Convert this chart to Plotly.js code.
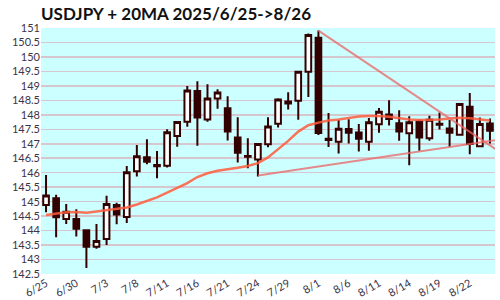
<!DOCTYPE html>
<html>
<head>
<meta charset="utf-8">
<script src="https://cdn.plot.ly/plotly-3.0.1.min.js"></script>
<style>html,body{margin:0;padding:0;background:#fff;}#chart{width:500px;height:300px;}</style>
</head>
<body>
<div id="chart"></div>
<script>
var dates = ["6/25","6/26","6/27","6/30","7/1","7/2","7/3","7/4","7/7","7/8","7/9","7/10","7/11","7/14","7/15","7/16","7/17","7/18","7/21","7/22","7/23","7/24","7/25","7/28","7/29","7/30","7/31","8/1","8/4","8/5","8/6","8/7","8/8","8/11","8/12","8/13","8/14","8/15","8/18","8/19","8/20","8/21","8/22","8/25","8/26"];
var openV  = [144.88,145.12,144.40,144.40,144.01,143.44,143.71,144.88,144.47,146.05,146.53,146.27,146.24,147.27,147.76,148.82,147.84,148.56,148.23,147.22,146.58,146.46,146.98,147.69,148.39,148.49,149.49,150.66,147.17,147.07,147.51,147.39,147.07,147.67,148.01,147.71,147.36,147.77,147.19,147.69,147.53,147.31,148.28,146.91,147.70];
var highV  = [145.92,145.24,144.92,144.74,144.03,144.23,145.20,144.96,146.23,146.96,147.16,146.75,147.50,147.77,149.00,149.16,149.06,148.88,148.64,147.92,147.19,147.00,147.92,148.57,148.78,149.50,150.81,150.91,148.06,147.82,147.85,147.68,147.89,148.24,148.50,148.16,147.95,147.84,147.97,148.08,147.82,148.39,148.75,147.91,147.87];
var lowV   = [144.63,143.77,144.23,143.80,142.71,143.37,143.50,144.22,144.26,145.87,146.29,145.81,146.18,146.90,147.59,146.93,147.76,148.21,147.11,146.35,146.15,145.87,146.88,147.56,148.18,147.83,148.62,147.30,146.89,146.66,147.01,146.73,146.76,147.38,147.63,147.10,146.26,146.76,147.10,147.49,146.90,147.29,146.64,146.91,147.01];
var closeV = [145.21,144.46,144.65,144.06,143.44,143.64,144.92,144.56,146.02,146.57,146.38,146.22,147.40,147.75,148.84,147.91,148.56,148.77,147.42,146.69,146.55,146.99,147.60,148.53,148.46,149.49,150.76,147.37,147.13,147.52,147.38,147.17,147.74,148.11,147.86,147.42,147.74,147.22,147.83,147.66,147.38,148.37,146.99,147.68,147.45];
var ma20   = [144.54,144.58,144.63,144.64,144.62,144.66,144.70,144.74,144.80,144.90,145.02,145.15,145.31,145.47,145.64,145.85,145.98,146.07,146.11,146.17,146.23,146.33,146.53,146.80,147.10,147.42,147.64,147.73,147.80,147.84,147.90,147.94,147.96,147.96,147.93,147.88,147.84,147.82,147.82,147.84,147.87,147.90,147.88,147.84,147.80];
var downTrendX = [27, 45];
var downTrendY = [150.91, 146.71];
var upTrendX = [21, 45];
var upTrendY = [145.90, 147.15];
var tickIdx = [0,3,6,9,12,15,18,21,24,27,30,33,36,39,42];

var idx = dates.map(function(d,i){return i;});
var dark = "#330000";
var traces = [
  {type:"candlestick", x:idx, open:openV, high:highV, low:lowV, close:closeV,
   increasing:{line:{color:dark,width:2}, fillcolor:"#ffffff"},
   decreasing:{line:{color:dark,width:2}, fillcolor:dark},
   whiskerwidth:0, hoverinfo:"skip", showlegend:false},
  {type:"scatter", mode:"lines", x:idx, y:ma20, line:{color:"rgba(255,90,60,0.85)", width:2.5}, hoverinfo:"skip", showlegend:false},
  {type:"scatter", mode:"lines", x:downTrendX, y:downTrendY, line:{color:"rgba(235,100,100,0.75)", width:2}, hoverinfo:"skip", showlegend:false},
  {type:"scatter", mode:"lines", x:upTrendX, y:upTrendY, line:{color:"rgba(235,100,100,0.75)", width:2}, hoverinfo:"skip", showlegend:false}
];
var layout = {
  width:500, height:300,
  margin:{l:41, r:5, t:27.5, b:25.5},
  paper_bgcolor:"#ffffff", plot_bgcolor:"#ccffff",
  boxgap:0.2,
  title:{text:"<b>USDJPY + 20MA 2025/6/25->8/26</b>", x:0.082, xanchor:"left", y:0.953, yanchor:"middle",
         font:{family:"Lato, sans-serif", size:17, color:"#111111"}},
  font:{family:"Lato, sans-serif", size:12, color:"#3a3548"},
  xaxis:{range:[-0.5,44.5], tickvals:tickIdx, ticktext:tickIdx.map(function(i){return dates[i];}), tickangle:-30,
         showgrid:false, zeroline:false, showline:false, ticks:"", rangeslider:{visible:false}, fixedrange:true,
         tickfont:{size:11}},
  yaxis:{range:[142.5,151], dtick:0.5, tick0:142.5, showgrid:true, gridcolor:"#d6c6ce", gridwidth:1.5,
         zeroline:false, showline:false, ticks:"", fixedrange:true, tickfont:{size:11}},
  showlegend:false
};
Plotly.newPlot("chart", traces, layout, {displayModeBar:false, staticPlot:true});
</script>
</body>
</html>
